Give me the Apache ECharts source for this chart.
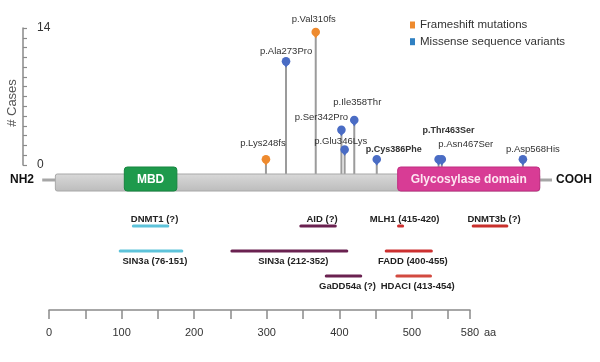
<!DOCTYPE html>
<html>
<head>
<meta charset="utf-8">
<script src="https://cdn.jsdelivr.net/npm/echarts@6/dist/echarts.min.js"></script>
<style>html,body{margin:0;padding:0;background:#fff;}#c{width:600px;height:362px;}</style>
</head>
<body>
<div id="c"></div>
<script>
// ---- data ----
const mutLabels = ['p.Lys248fs','p.Ala273Pro','p.Val310fs','p.Ser342Pro','p.Glu346Lys','p.Ile358Thr','p.Cys386Phe','p.Thr463Ser','p.Asn467Ser','p.Asp568His'];
const mutPos    = [248, 273, 310, 342, 346, 358, 386, 463, 467, 568];
const mutCases  = [1, 11, 14, 4, 2, 5, 1, 1, 1, 1];
const mutType   = ['Frameshift mutations','Missense sequence variants','Frameshift mutations','Missense sequence variants','Missense sequence variants','Missense sequence variants','Missense sequence variants','Missense sequence variants','Missense sequence variants','Missense sequence variants'];
const seriesNames = ['Frameshift mutations','Missense sequence variants'];

const proteinSpan = [-3, 587];
const nTail = [-19, -3];
const cTail = [587, 602];
const domainNames = ['MBD', 'Glycosylase domain'];
const domainStart = [81, 414];
const domainEnd   = [145, 587];

const partnerNames = ['DNMT1 (?)','AID (?)','MLH1 (415-420)','DNMT3b (?)','SIN3a (76-151)','SIN3a (212-352)','FADD (400-455)','GaDD54a (?)','HDACI (413-454)'];
const partnerStart = [92, 296, 415, 506, 76, 212, 400, 327, 413];
const partnerEnd   = [134, 338, 420, 547, 151, 352, 455, 369, 454];
const partnerRow   = [1, 1, 1, 1, 2, 2, 2, 3, 3];

const axisMin = 0, axisMax = 580, axisStep = 50;

// ---- styles ----
const FONT = "'Liberation Sans', Arial, sans-serif";
const typeColor = {'Frameshift mutations':'#ee8a2e','Missense sequence variants':'#4a6cc4'};
const legendColor = {'Frameshift mutations':'#ee8a2e','Missense sequence variants':'#2f80c2'};
const labelDx = [-3, 0, -2, -20, -4, 3, 17, 10, 24, 10];
const labelDy = [-16, -10, -13, -12.5, -8, -18, -10, -29, -15, -10];
const labelBold = [false,false,false,false,false,false,true,true,false,false];
const domainFill = ['#1e9a4c', '#d83c95'];
const domainStroke = ['#15853f', '#bf2c80'];
const domainText = ['#ffffff', '#fde6f1'];
const partnerColor = ['#5ec3da','#6a2150','#cc3030','#c9302c','#5ec3da','#6a2150','#cc3030','#6a2150','#d24a40'];

function mutRender(params, api) {
  const idx = api.value(2);
  const p = api.coord([api.value(0), api.value(1)]);
  const base = api.coord([api.value(0), 0]);
  const hy = p[1] + 4;
  const col = typeColor[mutType[idx]];
  return {
    type: 'group',
    children: [
      {type:'line', shape:{x1:p[0], y1:hy, x2:p[0], y2:base[1]+10}, style:{stroke:'#9b9b9b', lineWidth:2}},
      {type:'polygon', shape:{points:[[p[0]-3, hy+2],[p[0]+3, hy+2],[p[0], hy+6.5]]}, style:{fill:col}},
      {type:'circle', shape:{cx:p[0], cy:hy, r:4.3}, style:{fill:col}},
      {type:'text', x:p[0]+labelDx[idx], y:hy+labelDy[idx], z2:5,
        style:{text:mutLabels[idx], fill:'#333', align:'center', verticalAlign:'middle',
          font:(labelBold[idx] ? 'bold 9px ' : '9.5px ') + FONT}}
    ]
  };
}

function mutData(name) {
  const d = [];
  for (let i = 0; i < mutPos.length; i++) if (mutType[i] === name) d.push([mutPos[i], mutCases[i], i]);
  return d;
}

const proteinData = [
  [nTail[0], nTail[1], 0, -1],
  [cTail[0], cTail[1], 0, -1],
  [proteinSpan[0], proteinSpan[1], 1, -1],
  [domainStart[0], domainEnd[0], 2, 0],
  [domainStart[1], domainEnd[1], 2, 1]
];

function proteinRender(params, api) {
  const a = api.coord([api.value(0), 0]);
  const b = api.coord([api.value(1), 0]);
  const kind = api.value(2);
  const cy = a[1];
  if (kind === 0) {
    return {type:'line', shape:{x1:a[0], y1:cy-2, x2:b[0], y2:cy-2}, style:{stroke:'#a6a6a6', lineWidth:3}};
  }
  if (kind === 1) {
    return {type:'rect', shape:{x:a[0], y:cy-8, width:b[0]-a[0], height:17, r:2},
      style:{fill:new echarts.graphic.LinearGradient(0,0,0,1,[{offset:0,color:'#d9d9d9'},{offset:1,color:'#bcbcbc'}]), stroke:'#a8a8a8', lineWidth:1}};
  }
  const di = api.value(3);
  return {
    type:'group',
    children:[
      {type:'rect', shape:{x:a[0], y:cy-15, width:b[0]-a[0], height:24, r:3},
        style:{fill:domainFill[di], stroke:domainStroke[di], lineWidth:1}},
      {type:'text', x:(a[0]+b[0])/2, y:cy-2.5,
        style:{text:domainNames[di], fill:domainText[di], align:'center', verticalAlign:'middle', font:'bold 12px ' + FONT}}
    ]
  };
}

const partnerData = partnerNames.map((n, i) => [partnerStart[i], partnerEnd[i], partnerRow[i], i]);

function partnerRender(params, api) {
  const i = api.value(3);
  const row = api.value(2);
  const s = api.coord([api.value(0), row]);
  const e = api.coord([api.value(1), row]);
  const ty = row === 1 ? s[1] - 7 : s[1] + 10;
  return {
    type:'group',
    children:[
      {type:'line', shape:{x1:s[0], y1:s[1], x2:e[0], y2:e[1]}, style:{stroke:partnerColor[i], lineWidth:3, lineCap:'round'}},
      {type:'text', x:(s[0]+e[0])/2 + 4, y:ty,
        style:{text:partnerNames[i], fill:'#222', align:'center', verticalAlign:'middle', font:'bold 9.5px ' + FONT}}
    ]
  };
}

const chart = echarts.init(document.getElementById('c'), null, {renderer:'canvas'});
const option = {
  animation:false,
  backgroundColor:'#ffffff',
  textStyle:{fontFamily:FONT},
  legend:{
    orient:'vertical', left:410, top:18.5, itemWidth:5, itemHeight:7, itemGap:3.7, padding:0,
    icon:'rect', selectedMode:false,
    textStyle:{fontSize:11.5, color:'#333', lineHeight:13, fontFamily:FONT},
    data: seriesNames.map(n => ({name:n, itemStyle:{color:legendColor[n]}}))
  },
  grid:[
    {left:66.8, right:51.4, top:28, height:137, outerBoundsMode:'none'},
    {left:33.2, right:33.2, top:172, height:20, outerBoundsMode:'none'},
    {left:33.2, right:33.2, top:201, height:100, outerBoundsMode:'none'},
    {left:49, right:130, top:290, height:20, outerBoundsMode:'none'}
  ],
  xAxis:[
    {gridIndex:0, type:'value', min:0, max:600, show:false},
    {gridIndex:1, type:'value', min:-30, max:620, show:false},
    {gridIndex:2, type:'value', min:-30, max:620, show:false},
    {gridIndex:3, type:'value', min:axisMin, max:axisMax, interval:axisStep, position:'bottom',
      splitLine:{show:false},
      axisLine:{show:true, onZero:false, lineStyle:{color:'#8a8a8a', width:1.5}},
      axisTick:{show:true, length:9, lineStyle:{color:'#8a8a8a', width:1.5}},
      axisLabel:{margin:17, fontSize:11, color:'#333', fontFamily:FONT,
        formatter: v => (v % 100 === 0 || v === axisMax) ? String(v) : ''}}
  ],
  yAxis:[
    {gridIndex:0, type:'value', min:0, max:14, interval:1, position:'left', offset:43.8,
      splitLine:{show:false},
      axisLine:{show:true, onZero:false, lineStyle:{color:'#8a8a8a', width:1.5}},
      axisTick:{show:true, inside:true, length:4, lineStyle:{color:'#8a8a8a', width:1.2}},
      axisLabel:{inside:true, margin:14, fontSize:12, color:'#333', fontFamily:FONT,
        formatter: v => (v === 0 || v === 14) ? String(v) : ''}},
    {gridIndex:1, type:'value', min:-1, max:1, show:false},
    {gridIndex:2, type:'value', min:0, max:4, inverse:true, show:false},
    {gridIndex:3, type:'value', min:0, max:1, show:false}
  ],
  series:[
    {type:'custom', name:seriesNames[0], xAxisIndex:0, yAxisIndex:0, renderItem:mutRender,
      itemStyle:{color:typeColor[seriesNames[0]]}, encode:{x:0, y:1}, data:mutData(seriesNames[0]), z:3},
    {type:'custom', name:seriesNames[1], xAxisIndex:0, yAxisIndex:0, renderItem:mutRender,
      itemStyle:{color:typeColor[seriesNames[1]]}, encode:{x:0, y:1}, data:mutData(seriesNames[1]), z:3},
    {type:'custom', name:'protein', xAxisIndex:1, yAxisIndex:1, renderItem:proteinRender,
      encode:{x:[0,1]}, data:proteinData, z:4},
    {type:'custom', name:'partners', xAxisIndex:2, yAxisIndex:2, renderItem:partnerRender,
      encode:{x:[0,1], y:2}, data:partnerData, z:3},
    {type:'line', name:'scale', xAxisIndex:3, yAxisIndex:3, data:[], silent:true}
  ],
  graphic:[
    {type:'text', x:12, y:103, rotation:Math.PI/2,
      style:{text:'# Cases', fill:'#555', align:'center', verticalAlign:'middle', font:'13px ' + FONT}},
    {type:'text', x:22, y:180,
      style:{text:'NH2', fill:'#111', align:'center', verticalAlign:'middle', font:'bold 12px ' + FONT}},
    {type:'text', x:556, y:180,
      style:{text:'COOH', fill:'#111', align:'left', verticalAlign:'middle', font:'bold 12px ' + FONT}},
    {type:'text', x:484, y:333,
      style:{text:'aa', fill:'#333', align:'left', verticalAlign:'middle', font:'11px ' + FONT}}
  ]
};
chart.setOption(option);
</script>
</body>
</html>
